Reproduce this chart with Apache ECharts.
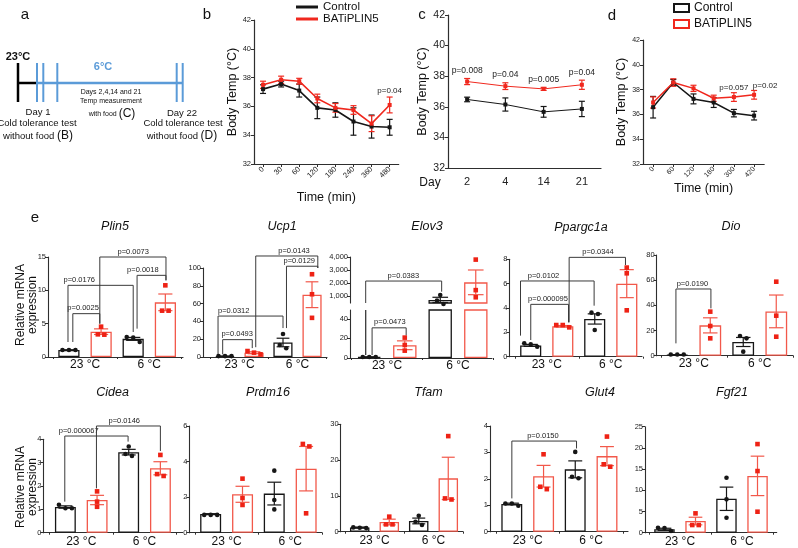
<!DOCTYPE html>
<html><head><meta charset="utf-8">
<script src="https://cdn.jsdelivr.net/npm/echarts@6.0.0/dist/echarts.min.js"></script>
<style>html,body{margin:0;padding:0;background:#fff}#chart{width:798px;height:548px}</style>
</head><body><div id="chart"></div>
<script>
// ================= DATA =================
// panel b
const bTimes = ['0','30','60','120','180','240','360','480'];
const bCtrl = [37.2, 37.55, 37.1, 35.9, 35.75, 34.95, 34.6, 34.55];
const bCtrlErr = [0.3, 0.2, 0.45, 0.75, 0.5, 0.95, 0.8, 0.55];
const bPl5 = [37.5, 37.85, 37.75, 36.55, 35.9, 35.75, 34.8, 36.1];
const bPl5Err = [0.25, 0.25, 0.2, 0.3, 0.3, 0.3, 0.55, 0.55];
const bP = ['', '', '', '', '', '', '', 'p=0.04'];
// panel c
const cDays = ['2','4','14','21'];
const cCtrl = [36.48, 36.15, 35.67, 35.86];
const cCtrlErr = [0.15, 0.43, 0.35, 0.5];
const cPl5 = [37.65, 37.35, 37.17, 37.44];
const cPl5Err = [0.2, 0.22, 0.1, 0.3];
const cP = ['p=0.008','p=0.04','p=0.005','p=0.04'];
// panel d
const dTimes = ['0','60','120','180','300','420'];
const dCtrl = [36.58, 38.57, 37.25, 36.96, 36.1, 35.9];
const dCtrlErr = [0.87, 0.25, 0.4, 0.4, 0.3, 0.35];
const dPl5 = [36.96, 38.57, 38.1, 37.3, 37.4, 37.58];
const dPl5Err = [0.45, 0.3, 0.25, 0.25, 0.35, 0.35];
const dP = ['', '', '', '', 'p=0.057', 'p=0.02'];

// panel e
const groups = ['23 °C', '6 °C'];
// brackets: [fromX, toX, top, endFrom, endTo, label, labelX]  (x in category-band units 0..2)
const plin5Ctrl = [1.05, 2.72], plin5CtrlSem = [0.03, 0.22], plin5CtrlPts = [[1.05,1.05,1.05],[3.0,2.9,2.25]];
const plin5Pl5 = [3.8, 8.2], plin5Pl5Sem = [0.42, 1.25], plin5Pl5Pts = [[4.55,3.35,3.4],[10.75,6.95,6.95]];
const plin5P = [[0.31,0.73,6.5,2.25,5.0,'p=0.0025',0.47],[0.235,1.25,10.75,2.25,3.75,'p=0.0176',0.41],
                [0.73,1.76,15,5,11.5,'p=0.0073',1.25],[1.31,1.76,12.25,4.25,11.5,'p=0.0018',1.4]];

const ucp1Ctrl = [0.9, 16.3], ucp1CtrlSem = [0.1, 4.8], ucp1CtrlPts = [[1,1,1],[25.8,13.5,9.8]];
const ucp1Pl5 = [4.8, 70], ucp1Pl5Sem = [1.1, 14.5], ucp1Pl5Pts = [[6.7,3,4.9],[93,70.5,44]];
const ucp1P = [[0.21,0.72,19.5,3,10,'p=0.0493',0.46],[0.13,1.25,46,3,32.5,'p=0.0312',0.4],
               [0.78,1.85,113.5,11,100,'p=0.0143',1.44],[1.31,1.85,102,32.5,100,'p=0.0129',1.53]];

const elov3Ctrl = [1.0, 700], elov3CtrlSem = [0.1, 200], elov3CtrlPts = [[1,1,1],[1080,650,380]];
const elov3Pl5 = [13, 2050], elov3Pl5Sem = [4.5, 950], elov3Pl5Pts = [[20.8,13.3,7.5],[3800,1450,900]];
const elov3PLow = [[0.29,0.77,30.8,3,23,'p=0.0473',0.54],[0.2,0.2,null,3,3,'',0]];
const elov3PHigh = [[0.2,1.27,2150,null,1330,'p=0.0383',0.73]];
const elov3TicksHigh = [1000,2000,3000,4000], elov3TicksLow = [0,20,40];

const ppaCtrl = [0.93, 3.1], ppaCtrlSem = [0.08, 0.42], ppaCtrlPts = [[0.82,1.1,1.01],[3.62,3.51,2.19]];
const ppaPl5 = [2.5, 6.0], ppaPl5Sem = [0.06, 1.15], ppaPl5Pts = [[2.41,2.6,2.6],[7.32,6.85,3.81]];
const ppaP = [[0.25,0.84,4.3,1.37,2.82,'p=0.000095',0.52],[0.09,1.24,6.22,1.73,4.19,'p=0.0102',0.45],
              [0.85,1.73,8.16,2.82,7.53,'p=0.0344',1.3]];

const dioCtrl = [0.8, 10.9], dioCtrlSem = [0.1, 3.6], dioCtrlPts = [[1,1,1],[15.6,13.8,3.2]];
const dioPl5 = [24.1, 35.2], dioPl5Sem = [6, 13], dioPl5Pts = [[35,23.6,13.8],[58.8,31.8,15.1]];
const dioP = [[0.23,0.76,53,9.8,37.6,'p=0.0190',0.48]];

const cideaCtrl = [1.1, 3.45], cideaCtrlSem = [0.05, 0.12], cideaCtrlPts = [[1.2,1.05,1.05],[3.69,3.37,3.29]];
const cideaPl5 = [1.4, 2.76], cideaPl5Sem = [0.2, 0.28], cideaPl5Pts = [[1.77,1.33,1.11],[3.33,2.51,2.43]];
const cideaP = [[0.24,1.24,4.14,1.33,3.9,'p=0.000067',0.46],[0.74,1.75,4.57,1.9,3.5,'p=0.0146',1.18]];

const prdmCtrl = [1.05, 2.2], prdmCtrlSem = [0.02, 0.64], prdmCtrlPts = [[1.0,1.0,1.0],[3.49,1.84,1.31]];
const prdmPl5 = [2.16, 3.6], prdmPl5Sem = [0.45, 1.25], prdmPl5Pts = [[3.04,1.95,1.56],[4.99,4.85,1.09]];

const tfamCtrl = [1.2, 3.0], tfamCtrlSem = [0.1, 0.8], tfamCtrlPts = [[1.2,1.1,1.0],[4.47,1.86,2.8]];
const tfamPl5 = [2.7, 14.9], tfamPl5Sem = [0.8, 5.9], tfamPl5Pts = [[4.2,2.05,2.05],[26.7,9.0,9.3]];

const glutCtrl = [1.05, 2.36], glutCtrlSem = [0.03, 0.32], glutCtrlPts = [[0.98,1.07,1.07],[3.02,2.08,2.02]];
const glutPl5 = [2.1, 2.86], glutPl5Sem = [0.41, 0.36], glutPl5Pts = [[2.93,1.7,1.61],[3.6,2.46,2.55]];
const glutP = [[0.25,1.27,3.43,1.26,3.15,'p=0.0150',0.74]];

const fgfCtrl = [0.8, 8.0], fgfCtrlSem = [0.25, 2.75], fgfCtrlPts = [[0.39,1.18,1.1],[12.97,7.86,3.54]];
const fgfPl5 = [2.75, 13.4], fgfPl5Sem = [0.9, 4.65], fgfPl5Pts = [[4.56,1.81,1.81],[20.9,14.54,4.95]];

// ================= STYLE / BUILD =================
const FONT = '"Liberation Sans", Arial, Helvetica, sans-serif';
const RED = '#f0281e', RED_BAR = '#f2584a', RED_DOT = '#ee2215', BLK = '#161616', AXC = '#2e2e2e', BLUE = '#5b9bd8';

const opt = {animation:false, textStyle:{fontFamily:FONT}, grid:[], xAxis:[], yAxis:[], series:[], legend:[], graphic:{elements:[]}};
const G = opt.graphic.elements;
function txt(x, y, text, size, extra) {
  G.push(Object.assign({type:'text', x, y, silent:true, style:Object.assign({text, font: size+'px '+FONT, fill:'#111',
    align:'center', verticalAlign:'middle', textAlign:'center', textVerticalAlign:'middle'}, extra||{})}));
}
function seg(x1,y1,x2,y2,color,w){ G.push({type:'line', silent:true, shape:{x1,y1,x2,y2}, style:{stroke:color, lineWidth:w}}); }

// ---- line charts b, c, d ----
function lineChart(L, cats, ctrl, ctrlErr, pl5, pl5Err, pLab) {
  const gi = opt.grid.push({left:L.left, top:L.top, width:L.width, height:L.height}) - 1;
  const xi = opt.xAxis.push({type:'category', gridIndex:gi, data:cats, boundaryGap:true,
    axisLine:{lineStyle:{color:AXC, width:1.2}}, axisTick:{show:L.ticks, alignWithLabel:true, length:3, lineStyle:{color:AXC}},
    axisLabel:{interval:0, rotate:L.rot, fontSize:L.xfs, color:'#222', margin:L.xm, fontFamily:FONT},
    name:L.xname, nameLocation:'middle', nameGap:L.xgap, nameTextStyle:{fontSize:12.5, color:'#111', fontFamily:FONT}}) - 1;
  const yi = opt.yAxis.push({type:'value', gridIndex:gi, min:32, max:42, interval:2,
    axisLine:{show:true, lineStyle:{color:AXC, width:1.2}}, axisTick:{show:true, length:3, lineStyle:{color:AXC}},
    axisLabel:{fontSize:L.yfs, color:'#222', margin:3, fontFamily:FONT}, splitLine:{show:false},
    name:'Body Temp (°C)', nameLocation:'middle', nameRotate:90, nameGap:L.ygap, nameTextStyle:{fontSize:12.5, color:'#111', fontFamily:FONT}}) - 1;
  const c = {xAxisIndex:xi, yAxisIndex:yi, silent:true};
  [['Control', ctrl, ctrlErr, BLK], ['BATiPLIN5', pl5, pl5Err, RED]].forEach(([nm, m, e, col]) => {
    opt.series.push(Object.assign({}, c, {type:'line', name:nm, data:m, symbol:'rect', symbolSize:4, itemStyle:{color:col}, lineStyle:{color:col, width:L.lw}, z:3}));
    const ed = m.map((v,i)=>[i, v, e[i]]);
    opt.series.push(Object.assign({}, c, {type:'custom', data:ed, z:3, clip:false, renderItem:(p,api)=>{
      const d = ed[p.dataIndex];
      const x = api.coord([d[0], d[1]])[0], y1 = api.coord([d[0], d[1]+d[2]])[1], y2 = api.coord([d[0], d[1]-d[2]])[1];
      const st = {stroke:col, lineWidth:1.2}, cw = L.cap;
      return {type:'group', children:[
        {type:'line', shape:{x1:x,y1:y1,x2:x,y2:y2}, style:st},
        {type:'line', shape:{x1:x-cw,y1:y1,x2:x+cw,y2:y1}, style:st},
        {type:'line', shape:{x1:x-cw,y1:y2,x2:x+cw,y2:y2}, style:st}]};
    }}));
  });
  const pd = pLab.map((t,i)=>[i, pl5[i]+pl5Err[i], t]).filter(d=>d[2]);
  opt.series.push(Object.assign({}, c, {type:'custom', data:pd.map(d=>[d[0], d[1]]), z:4, clip:false, renderItem:(p,api)=>{
    const d = pd[p.dataIndex];
    const pt = api.coord([d[0], d[1]]);
    const dx = L.pdx ? (L.pdx[d[0]] || 0) : 0;
    return {type:'text', x: pt[0]+dx, y: pt[1]-L.pdy, style:{text:d[2], fill:'#222', font:L.pfs+'px '+FONT,
      align:'center', verticalAlign:'bottom', textAlign:'center', textVerticalAlign:'bottom'}};
  }}));
}

lineChart({left:254, top:20, width:144.7, height:144, rot:45, xfs:7.5, yfs:7.5, xm:4, xname:'Time (min)', xgap:27, ygap:8, lw:1.6, ticks:true, pdy:2, cap:3, pfs:8},
  bTimes, bCtrl, bCtrlErr, bPl5, bPl5Err, bP);
lineChart({left:448, top:15, width:153, height:153, rot:0, xfs:11, yfs:10.5, xm:8.5, xname:'', xgap:0, ygap:9, lw:1, ticks:false, pdy:3.5, cap:3, pfs:8.5},
  cDays, cCtrl, cCtrlErr, cPl5, cPl5Err, cP);
lineChart({left:643, top:40, width:121.2, height:124, rot:45, xfs:7, yfs:7, xm:4, xname:'Time (min)', xgap:18, ygap:14, lw:1.5, ticks:true, pdy:0.5, cap:3, pfs:8, pdx:[0,0,0,0,0,11]},
  dTimes, dCtrl, dCtrlErr, dPl5, dPl5Err, dP);

opt.legend.push({left:291, top:-4, orient:'vertical', itemWidth:22, itemHeight:3, itemGap:0, selectedMode:false,
  textStyle:{fontSize:11.5, lineHeight:11.5, color:'#111', fontFamily:FONT},
  data:[{name:'Control', icon:'rect', itemStyle:{color:BLK, borderWidth:0}}, {name:'BATiPLIN5', icon:'rect', itemStyle:{color:RED, borderWidth:0}}]});
opt.legend.push({left:668, top:-4, orient:'vertical', itemWidth:15, itemHeight:8, itemGap:2, selectedMode:false,
  textStyle:{fontSize:12, lineHeight:14, color:'#111', fontFamily:FONT},
  data:[{name:'Control', icon:'rect', itemStyle:{color:'#fff', borderColor:BLK, borderWidth:2}},
        {name:'BATiPLIN5', icon:'rect', itemStyle:{color:'#fff', borderColor:RED, borderWidth:2}}]});

// ---- bar panels e ----
function frameX(g) {
  return {type:'value', gridIndex:g, min:0, max:1, axisLine:{show:true, onZero:false, lineStyle:{color:AXC, width:1.1}},
    axisTick:{show:false}, axisLabel:{show:false}, splitLine:{show:false}};
}
function frameY(g, min, max, iv, custom) {
  const y = {type:'value', gridIndex:g, min, max, axisLine:{show:true, onZero:false, lineStyle:{color:AXC, width:1.1}},
    axisTick:{show:true, length:3, lineStyle:{color:AXC}}, axisLabel:{fontSize:7.5, color:'#222', margin:2, fontFamily:FONT}, splitLine:{show:false}};
  if (iv) y.interval = iv;
  if (custom) { y.axisTick.customValues = custom; y.axisLabel.customValues = custom; }
  return y;
}
function catX(g, m) {
  return {type:'category', gridIndex:g, data:groups, axisLine:{show:false},
    axisTick:{show:true, length:2, lineStyle:{color:AXC}}, axisLabel:{interval:0, fontSize:12, color:'#111', margin:m, fontFamily:FONT}};
}
function geneSeries(xi, yi, D, inRange, brackets, barMask) {
  const c = {xAxisIndex:xi, yAxisIndex:yi, silent:true};
  const bd = arr => arr.map(v => (barMask && !barMask(v)) ? '-' : v);
  opt.series.push(Object.assign({}, c, {type:'bar', name:'Control', data:bd(D.ctrl), barWidth:'33%', barGap:'52%', clip:true, z:2,
    itemStyle:{color:'#fff', borderColor:BLK, borderWidth:1.3}}));
  opt.series.push(Object.assign({}, c, {type:'bar', name:'BATiPLIN5', data:bd(D.pl5), barWidth:'33%', barGap:'52%', clip:true, z:2,
    itemStyle:{color:'#fff', borderColor:RED_BAR, borderWidth:1.3}}));
  // error bars
  const ed = [];
  [[D.ctrl, D.ctrlSem, -1], [D.pl5, D.pl5Sem, 1]].forEach(([m, s, side]) => m.forEach((v, i) => { if (inRange(v)) ed.push([i, v, s[i], side]); }));
  opt.series.push(Object.assign({}, c, {type:'custom', data:ed.map(d=>[d[0], d[1]]), z:5, clip:false, renderItem:(p, api) => {
    const d = ed[p.dataIndex];
    const bw = api.size([1, 0])[0];
    const x = api.coord([d[0], d[1]])[0] + d[3]*0.25*bw;
    const yT = api.coord([d[0], d[1]+d[2]])[1], yB = api.coord([d[0], d[1]-d[2]])[1];
    const cw = 0.11*bw;
    const st = {stroke: d[3] < 0 ? BLK : RED_BAR, lineWidth:1.2};
    return {type:'group', children:[
      {type:'line', shape:{x1:x, y1:yT, x2:x, y2:yB}, style:st},
      {type:'line', shape:{x1:x-cw, y1:yT, x2:x+cw, y2:yT}, style:st},
      {type:'line', shape:{x1:x-cw, y1:yB, x2:x+cw, y2:yB}, style:st}]};
  }}));
  // dots
  const dd = [];
  [[D.ctrlPts, -1], [D.pl5Pts, 1]].forEach(([pts, side]) => pts.forEach((arr, i) => dd.push([i, side, arr])));
  opt.series.push(Object.assign({}, c, {type:'custom', data:dd.map(d=>[d[0], d[2][0]]), z:6, clip:false, renderItem:(p, api) => {
    const [gi, side, vals] = dd[p.dataIndex];
    const bw = api.size([1, 0])[0];
    const x0 = api.coord([gi, 0])[0] + side*0.25*bw;
    const ys = vals.map(v => api.coord([gi, v])[1]);
    const order = ys.map((y, k) => k).sort((a, b) => ys[a] - ys[b]);
    const off = ys.map(() => 0);
    let s = 0;
    for (let k = 1; k <= order.length; k++) {
      if (k === order.length || ys[order[k]] - ys[order[k-1]] > 4.5) {
        const n = k - s;
        for (let j = s; j < k; j++) off[order[j]] = (j - s - (n-1)/2) * 6.5;
        s = k;
      }
    }
    const ch = [];
    vals.forEach((v, k) => {
      if (!inRange(v)) return;
      const x = x0 + off[k], y = ys[k];
      if (side < 0) ch.push({type:'circle', shape:{cx:x, cy:y, r:2.3}, style:{fill:BLK}});
      else ch.push({type:'rect', shape:{x:x-2.3, y:y-2.3, width:4.6, height:4.6}, style:{fill:RED_DOT}});
    });
    return {type:'group', children:ch};
  }}));
  // significance brackets
  if (brackets && brackets.length) {
    opt.series.push(Object.assign({}, c, {type:'custom', data:brackets.map(b=>[0, b[2]==null ? 0 : b[2]]), z:4, clip:false, renderItem:(p, api) => {
      const b = brackets[p.dataIndex];
      const cs = p.coordSys;
      const bw = api.size([1, 0])[0];
      const x0 = api.coord([0, 0])[0] - bw/2;
      const X = f => x0 + f*bw;
      const Y = v => api.coord([0, v])[1];
      const top = b[2] == null ? cs.y : Y(b[2]);
      const eA = b[3] == null ? cs.y + cs.height : Y(b[3]);
      const eB = b[4] == null ? cs.y + cs.height : Y(b[4]);
      const ch = [{type:'polyline', shape:{points:[[X(b[0]), eA], [X(b[0]), top], [X(b[1]), top], [X(b[1]), eB]]},
        style:{stroke:'#3a3a3a', lineWidth:1, fill:null}}];
      if (b[5]) ch.push({type:'text', x:X(b[6]), y:top-1.5, style:{text:b[5], fill:'#222', font:'7.5px '+FONT,
        align:'center', verticalAlign:'bottom', textAlign:'center', textVerticalAlign:'bottom'}});
      return {type:'group', children:ch};
    }}));
  }
}
function gene(L, D) {
  const h = L.bottom - L.top;
  const gf = opt.grid.push({left:L.ax, top:L.top, width:L.axEnd-L.ax, height:h}) - 1;
  opt.xAxis.push(frameX(gf));
  opt.yAxis.push(frameY(gf, 0, L.max, L.iv));
  const gc = opt.grid.push({left:L.cx, top:L.top, width:L.cw, height:h}) - 1;
  const xi = opt.xAxis.push(catX(gc, L.lm)) - 1;
  const yi = opt.yAxis.push({type:'value', gridIndex:gc, min:0, max:L.max, show:false}) - 1;
  geneSeries(xi, yi, D, () => true, D.br, null);
  txt(L.tx, L.ty, L.title, 12.5, {font:'italic 12.5px '+FONT});
}
function geneSplit(L, D) {
  const W = L.axEnd - L.ax;
  let g = opt.grid.push({left:L.ax, top:L.hiTop, width:W, height:L.hiBottom-L.hiTop}) - 1;
  opt.xAxis.push({type:'value', gridIndex:g, min:0, max:1, show:false});
  opt.yAxis.push(frameY(g, L.hiMin, L.hiMax, null, D.hiTicks));
  g = opt.grid.push({left:L.ax, top:L.loTop, width:W, height:L.loBottom-L.loTop}) - 1;
  opt.xAxis.push(frameX(g));
  opt.yAxis.push(frameY(g, 0, L.loMax, null, D.loTicks));
  g = opt.grid.push({left:L.cx, top:L.hiTop, width:L.cw, height:L.hiBottom-L.hiTop}) - 1;
  let xi = opt.xAxis.push({type:'category', gridIndex:g, data:groups, show:false}) - 1;
  let yi = opt.yAxis.push({type:'value', gridIndex:g, min:L.hiMin, max:L.hiMax, show:false}) - 1;
  geneSeries(xi, yi, D, v => v > L.loMax, D.hiBr, v => v > L.loMax);
  g = opt.grid.push({left:L.cx, top:L.loTop, width:L.cw, height:L.loBottom-L.loTop}) - 1;
  xi = opt.xAxis.push(catX(g, L.lm)) - 1;
  yi = opt.yAxis.push({type:'value', gridIndex:g, min:0, max:L.loMax, show:false}) - 1;
  geneSeries(xi, yi, D, v => v <= L.loMax, D.loBr, null);
  txt(L.tx, L.ty, L.title, 12.5, {font:'italic 12.5px '+FONT});
}

gene({ax:48, axEnd:183, cx:52.9, cw:128.5, top:257, bottom:357, max:15, iv:5, lm:2, title:'Plin5', tx:115, ty:227},
  {ctrl:plin5Ctrl, ctrlSem:plin5CtrlSem, ctrlPts:plin5CtrlPts, pl5:plin5Pl5, pl5Sem:plin5Pl5Sem, pl5Pts:plin5Pl5Pts, br:plin5P});
gene({ax:203, axEnd:327, cx:210.5, cw:116, top:268, bottom:357, max:100, iv:20, lm:2, title:'Ucp1', tx:282, ty:227},
  {ctrl:ucp1Ctrl, ctrlSem:ucp1CtrlSem, ctrlPts:ucp1CtrlPts, pl5:ucp1Pl5, pl5Sem:ucp1Pl5Sem, pl5Pts:ucp1Pl5Pts, br:ucp1P});
geneSplit({ax:350, axEnd:492, cx:351.5, cw:142, hiTop:257, hiBottom:303, loTop:310, loBottom:358, hiMin:460, hiMax:4000, loMax:49, lm:1.5, title:'Elov3', tx:427, ty:227},
  {ctrl:elov3Ctrl, ctrlSem:elov3CtrlSem, ctrlPts:elov3CtrlPts, pl5:elov3Pl5, pl5Sem:elov3Pl5Sem, pl5Pts:elov3Pl5Pts,
   hiBr:elov3PHigh, loBr:elov3PLow, hiTicks:elov3TicksHigh, loTicks:elov3TicksLow});
gene({ax:509.3, axEnd:642, cx:514.75, cw:128, top:259.3, bottom:356.7, max:8, iv:2, lm:2, title:'Ppargc1a', tx:581, ty:228},
  {ctrl:ppaCtrl, ctrlSem:ppaCtrlSem, ctrlPts:ppaCtrlPts, pl5:ppaPl5, pl5Sem:ppaPl5Sem, pl5Pts:ppaPl5Pts, br:ppaP});
gene({ax:656.7, axEnd:793, cx:660.75, cw:132, top:255, bottom:355.7, max:80, iv:20, lm:2, title:'Dio', tx:731, ty:227},
  {ctrl:dioCtrl, ctrlSem:dioCtrlSem, ctrlPts:dioCtrlPts, pl5:dioPl5, pl5Sem:dioPl5Sem, pl5Pts:dioPl5Pts, br:dioP});

gene({ax:43.3, axEnd:182.7, cx:49.6, cw:126.6, top:439.3, bottom:532.7, max:4, iv:1, lm:3, title:'Cidea', tx:112.5, ty:393},
  {ctrl:cideaCtrl, ctrlSem:cideaCtrlSem, ctrlPts:cideaCtrlPts, pl5:cideaPl5, pl5Sem:cideaPl5Sem, pl5Pts:cideaPl5Pts, br:cideaP});
gene({ax:189.3, axEnd:322, cx:194.8, cw:127.2, top:426, bottom:532.7, max:6, iv:2, lm:3, title:'Prdm16', tx:268, ty:393},
  {ctrl:prdmCtrl, ctrlSem:prdmCtrlSem, ctrlPts:prdmCtrlPts, pl5:prdmPl5, pl5Sem:prdmPl5Sem, pl5Pts:prdmPl5Pts, br:[]});
gene({ax:340.7, axEnd:463, cx:345, cw:118, top:424.3, bottom:531.7, max:30, iv:10, lm:3, title:'Tfam', tx:428.5, ty:393},
  {ctrl:tfamCtrl, ctrlSem:tfamCtrlSem, ctrlPts:tfamCtrlPts, pl5:tfamPl5, pl5Sem:tfamPl5Sem, pl5Pts:tfamPl5Pts, br:[]});
gene({ax:490, axEnd:628, cx:496, cw:126.8, top:426, bottom:531.7, max:4, iv:1, lm:3, title:'Glut4', tx:600, ty:393},
  {ctrl:glutCtrl, ctrlSem:glutCtrlSem, ctrlPts:glutCtrlPts, pl5:glutPl5, pl5Sem:glutPl5Sem, pl5Pts:glutPl5Pts, br:glutP});
gene({ax:645, axEnd:776.7, cx:649, cw:124, top:426.7, bottom:532.7, max:25, iv:5, lm:3, title:'Fgf21', tx:732, ty:393},
  {ctrl:fgfCtrl, ctrlSem:fgfCtrlSem, ctrlPts:fgfCtrlPts, pl5:fgfPl5, pl5Sem:fgfPl5Sem, pl5Pts:fgfPl5Pts, br:[]});

// ---- panel labels & annotations ----
txt(25, 15, 'a', 15); txt(207, 15, 'b', 15); txt(422, 15, 'c', 15); txt(612, 16, 'd', 15); txt(35, 218, 'e', 15);
txt(430, 183, 'Day', 12);
txt(27, 305, 'Relative mRNA\nexpression', 12, {lineHeight:12});
G[G.length-1].rotation = Math.PI/2;
txt(27, 487, 'Relative mRNA\nexpression', 12, {lineHeight:12});
G[G.length-1].rotation = Math.PI/2;

// ---- panel a schematic ----
txt(18, 57, '23°C', 11, {font:'bold 11px '+FONT});
seg(18, 63, 18, 102, '#000', 2.5);
seg(18, 83, 37, 83, '#000', 2.5);
seg(37, 83, 182, 83, BLUE, 2.5);
[37, 43.3, 57.3, 176.7, 182.7].forEach(x => seg(x, 63, x, 102, BLUE, 2));
txt(103, 67, '6°C', 11, {font:'bold 11px '+FONT, fill:BLUE});
txt(111, 92, 'Days 2,4,14 and 21', 7);
txt(111, 101, 'Temp measurement', 7);
txt(112, 114, '{s|with food }{b|(C)}', 7, {rich:{s:{fontSize:7, fontFamily:FONT, fill:'#111'}, b:{fontSize:12, fontFamily:FONT, fill:'#111'}}});
txt(38, 112, 'Day 1', 9.5);
txt(37, 123, 'Cold tolerance test', 9.5);
txt(38, 136, '{s|without food }{b|(B)}', 9.5, {rich:{s:{fontSize:9.5, fontFamily:FONT, fill:'#111'}, b:{fontSize:12, fontFamily:FONT, fill:'#111'}}});
txt(182, 113, 'Day 22', 9.5);
txt(183, 123, 'Cold tolerance test', 9.5);
txt(182, 136, '{s|without food }{b|(D)}', 9.5, {rich:{s:{fontSize:9.5, fontFamily:FONT, fill:'#111'}, b:{fontSize:12, fontFamily:FONT, fill:'#111'}}});

const chart = echarts.init(document.getElementById('chart'), null, {renderer:'canvas'});
chart.setOption(opt);
</script></body></html>
